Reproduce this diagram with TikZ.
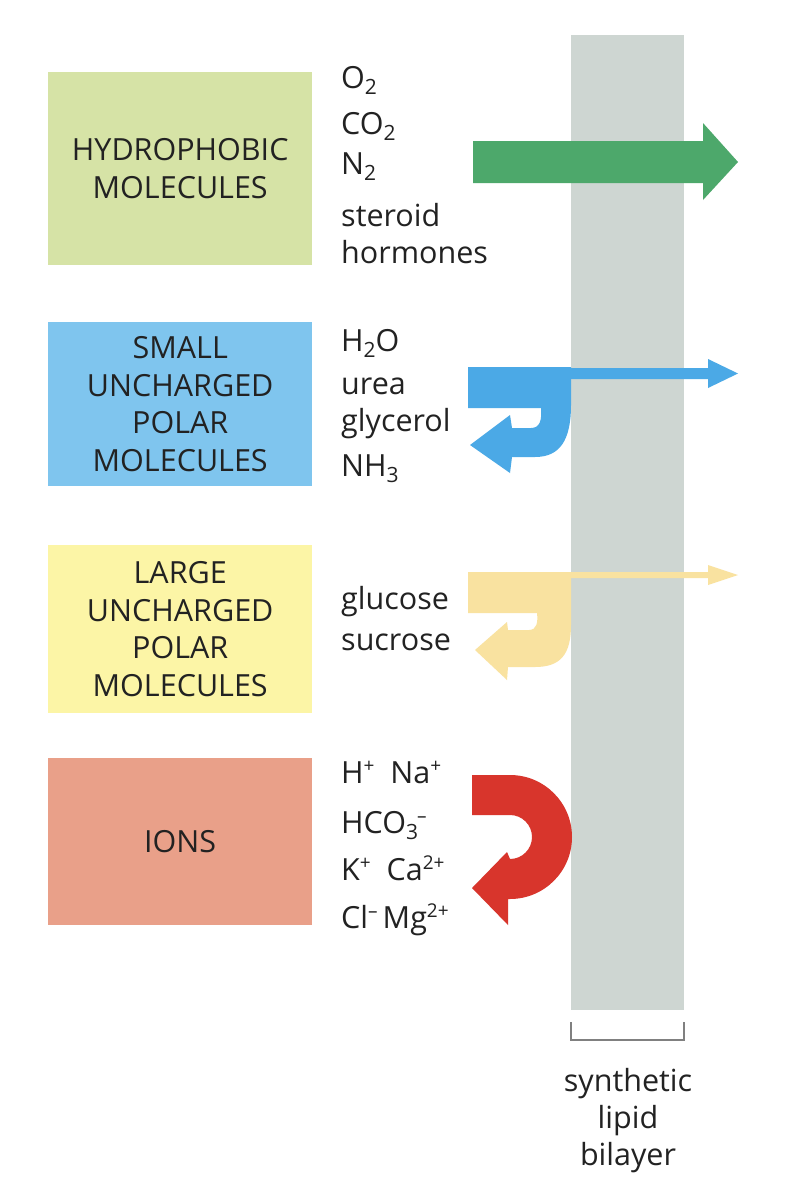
\documentclass[tikz,border=0pt]{standalone}
\usepackage{fontspec}
\setmainfont{Open Sans}
\definecolor{txt}{HTML}{222222}
\definecolor{bilayer}{HTML}{CED6D2}
\definecolor{greenarrow}{HTML}{4DA86B}
\definecolor{bluearrow}{HTML}{4BA9E6}
\definecolor{yellowarrow}{HTML}{F9E2A0}
\definecolor{redarrow}{HTML}{D8352C}
\definecolor{greenbox}{HTML}{D6E3A6}
\definecolor{bluebox}{HTML}{7FC5EE}
\definecolor{yellowbox}{HTML}{FCF5A6}
\definecolor{redbox}{HTML}{E9A089}
\newcommand{\boxfont}{\fontsize{30.5}{37.5}\selectfont}
\newcommand{\itemfont}{\fontsize{30.5}{37}\selectfont}
\newcommand{\sub}[1]{\raisebox{-6pt}{\fontsize{21}{21}\selectfont #1}}
\newcommand{\sups}[1]{\raisebox{11pt}{\fontsize{19}{19}\selectfont #1}}
\begin{document}
\begin{tikzpicture}[x=1pt,y=-1pt,
  catbox/.style={rectangle, inner sep=0pt, minimum width=264pt, align=center,
    font=\boxfont, text=txt, anchor=north west},
  item/.style={anchor=base west, inner sep=0pt, font=\itemfont, text=txt}]
\useasboundingbox (0,0) rectangle (789,1200);
\fill[white] (0,0) rectangle (789,1200);

% bilayer
\node[fill=bilayer, inner sep=0pt, minimum width=113pt, minimum height=975pt,
  anchor=north west] (bil) at (571,35) {};
\draw[gray, line width=1.5pt] (571,1022) -- (571,1040) -- (684,1040) -- (684,1022);
\node[align=center, font=\itemfont, text=txt, anchor=north, inner sep=0pt] (lbl) at (628,1068) {synthetic\\lipid\\bilayer};

% category boxes
\node[catbox, fill=greenbox, minimum height=193pt] (hyd) at (48,72) {HYDROPHOBIC\\MOLECULES};
\node[catbox, fill=bluebox, minimum height=164pt] (small) at (48,322) {SMALL\\UNCHARGED\\POLAR\\MOLECULES};
\node[catbox, fill=yellowbox, minimum height=168pt] (large) at (48,545) {LARGE\\UNCHARGED\\POLAR\\MOLECULES};
\node[catbox, fill=redbox, minimum height=167pt] (ions) at (48,758) {IONS};

% lists
\node[item] (o2) at (341,88) {O\sub{2}};
\node[item] (co2) at (341,134) {CO\sub{2}};
\node[item] (n2) at (341,174) {N\sub{2}};
\node[item] (ster) at (341,226) {steroid};
\node[item] (horm) at (341,263) {hormones};

\node[item] (h2o) at (341,351) {H\sub{2}O};
\node[item] (urea) at (341,394) {urea};
\node[item] (glyc) at (341,431) {glycerol};
\node[item] (nh3) at (341,476) {NH\sub{3}};

\node[item] (gluc) at (341,609) {glucose};
\node[item] (sucr) at (341,650) {sucrose};

\node[item] (hna) at (341,783) {H\sups{+}\ \ Na\sups{+}};
\node[item] (hco) at (341,833) {HCO\sub{3}\kern-1pt\sups{–}};
\node[item] (kca) at (341,880) {K\sups{+}\ \ Ca\sups{2+}};
\node[item] (clmg) at (341,928) {Cl\sups{–}\,Mg\sups{2+}};

% green arrow
\fill[greenarrow] (473,141) -- (703,141) -- (703,123) -- (738,162) -- (703,200)
  -- (703,183) -- (473,183) -- cycle;

% blue arrows
\fill[bluearrow] (560,368) -- (708,368) -- (708,359) -- (738,373.5) -- (708,388)
  -- (708,379) -- (560,379) -- cycle;
\fill[bluearrow] (468,367) -- (571,367) -- (571,405)
  .. controls (571,440) and (560,457) .. (535,457) -- (512,457) -- (510,473)
  -- (470,445) -- (510,415) -- (512,428) -- (531,428)
  .. controls (540,428) and (542,420) .. (541,408) -- (468,408) -- cycle;

% yellow arrows
\fill[yellowarrow] (560,572) -- (708,572) -- (708,565) -- (738,575) -- (708,585)
  -- (708,578) -- (560,578) -- cycle;
\fill[yellowarrow] (468,572) -- (571,572) -- (571,625)
  .. controls (571,655) and (560,667) .. (535,667) -- (508,667) -- (507,680)
  -- (475,650) -- (507,622) -- (508,630) -- (529,630)
  .. controls (537,630) and (538,622) .. (537,613) -- (468,613) -- cycle;

% red arrow
\fill[redarrow] (472,775) -- (510,775) arc[start angle=-90, end angle=90, radius=62]
  -- (508,899) -- (508,925) -- (472,888) -- (507,852) -- (510,859)
  arc[start angle=90, end angle=-90, radius=22] -- (472,815) -- cycle;
\end{tikzpicture}
\end{document}
